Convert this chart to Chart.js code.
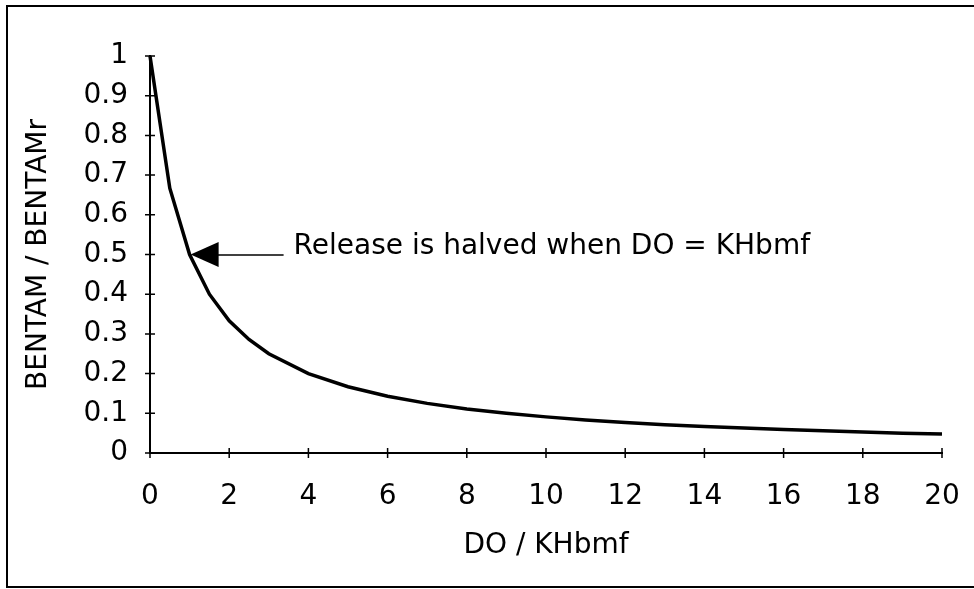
<!DOCTYPE html>
<html>
<head>
<meta charset="utf-8">
<script src="https://cdn.jsdelivr.net/npm/chart.js@4/dist/chart.umd.min.js"></script>
<style>
  html, body { margin: 0; padding: 0; background: #fff; }
  #wrap { width: 974px; height: 589px; position: relative; }
</style>
</head>
<body>
<div id="wrap"><canvas id="c" width="974" height="589"></canvas></div>
<script>
// Data
const xValues = [0, 0.5, 1, 1.5, 2, 2.5, 3, 4, 5, 6, 7, 8, 9, 10, 11, 12, 13, 14, 15, 16, 17, 18, 19, 20];
const yValues = [1, 0.667, 0.5, 0.4, 0.333, 0.286, 0.25, 0.2, 0.167, 0.143, 0.125, 0.111, 0.1, 0.091, 0.083, 0.077, 0.071, 0.067, 0.063, 0.059, 0.056, 0.053, 0.05, 0.048];
const xTickLabels = ['0', '2', '4', '6', '8', '10', '12', '14', '16', '18', '20'];
const yTickLabels = ['0', '0.1', '0.2', '0.3', '0.4', '0.5', '0.6', '0.7', '0.8', '0.9', '1'];
const xAxisTitle = 'DO / KHbmf';
const yAxisTitle = 'BENTAM / BENTAMr';
const annotationText = 'Release is halved when DO = KHbmf';
const annotationPoint = { x: 1, y: 0.5 };

const FONT = '"DejaVu Sans", Arial, sans-serif';
const FS = 28;

const points = xValues.map((x, i) => ({ x: x, y: yValues[i] }));

const decorPlugin = {
  id: 'decor',
  beforeDraw(chart) {
    const ctx = chart.ctx;
    ctx.save();
    ctx.fillStyle = '#fff';
    ctx.fillRect(0, 0, chart.width, chart.height);
    // outer frame
    ctx.strokeStyle = '#000';
    ctx.lineWidth = 2;
    ctx.beginPath();
    ctx.moveTo(chart.width + 5, 6);
    ctx.lineTo(7, 6);
    ctx.lineTo(7, 587);
    ctx.lineTo(chart.width + 5, 587);
    ctx.stroke();
    ctx.restore();
  },
  afterDraw(chart) {
    const ctx = chart.ctx;
    const xs = chart.scales.x, ys = chart.scales.y;
    const axisY = ys.getPixelForValue(0);
    const axisX = xs.getPixelForValue(0);
    ctx.save();
    ctx.strokeStyle = '#000';
    ctx.lineWidth = 1.5;
    ctx.beginPath();
    xs.ticks.forEach(t => {
      const px = xs.getPixelForValue(t.value);
      ctx.moveTo(px, axisY - 5);
      ctx.lineTo(px, axisY + 5);
    });
    ys.ticks.forEach(t => {
      const py = ys.getPixelForValue(t.value);
      ctx.moveTo(axisX - 5, py);
      ctx.lineTo(axisX + 5, py);
    });
    ctx.stroke();

    // annotation arrow
    const tipX = xs.getPixelForValue(annotationPoint.x) + 1;
    const tipY = ys.getPixelForValue(annotationPoint.y);
    ctx.fillStyle = '#000';
    ctx.beginPath();
    ctx.moveTo(tipX, tipY);
    ctx.lineTo(tipX + 28, tipY - 12.5);
    ctx.lineTo(tipX + 28, tipY + 12.5);
    ctx.closePath();
    ctx.fill();
    ctx.lineWidth = 1.5;
    ctx.beginPath();
    ctx.moveTo(tipX + 26, tipY + 0.5);
    ctx.lineTo(tipX + 93, tipY + 0.5);
    ctx.stroke();
    ctx.font = FS + 'px ' + FONT;
    ctx.textBaseline = 'alphabetic';
    ctx.textAlign = 'left';
    ctx.fillText(annotationText, tipX + 103, tipY - 1);
    ctx.restore();
  }
};

new Chart(document.getElementById('c'), {
  type: 'scatter',
  data: {
    datasets: [{
      data: points,
      showLine: true,
      borderColor: '#000',
      borderWidth: 3.5,
      pointRadius: 0,
      pointHoverRadius: 0,
      tension: 0,
      fill: false,
      clip: false
    }]
  },
  options: {
    responsive: false,
    animation: false,
    devicePixelRatio: 1,
    events: [],
    layout: { padding: { left: 10, right: 32, top: 56, bottom: 10 } },
    plugins: { legend: { display: false }, tooltip: { enabled: false } },
    scales: {
      x: {
        type: 'linear',
        min: 0, max: 20,
        afterFit(scale) { scale.height = 126; scale.paddingRight = 0; scale.paddingLeft = 0; },
        afterBuildTicks(scale) {
          scale.ticks = xTickLabels.map(l => ({ value: parseFloat(l) }));
        },
        ticks: {
          color: '#000',
          font: { family: FONT, size: FS },
          padding: 27,
          maxRotation: 0,
          autoSkip: false,
          callback: (v, i) => xTickLabels[i]
        },
        grid: { display: true, drawOnChartArea: false, drawTicks: false, color: 'rgba(0,0,0,0)' },
        border: { display: true, color: '#000', width: 2 },
        title: {
          display: true,
          text: xAxisTitle,
          color: '#000',
          font: { family: FONT, size: FS },
          padding: { top: 0, bottom: 16 }
        }
      },
      y: {
        type: 'linear',
        min: 0, max: 1,
        afterFit(scale) { scale.width = 140; },
        afterBuildTicks(scale) {
          scale.ticks = yTickLabels.map(l => ({ value: parseFloat(l) }));
        },
        ticks: {
          color: '#000',
          font: { family: FONT, size: FS },
          padding: 22,
          autoSkip: false,
          callback: (v, i) => yTickLabels[i]
        },
        grid: { display: true, drawOnChartArea: false, drawTicks: false, color: 'rgba(0,0,0,0)' },
        border: { display: true, color: '#000', width: 2 },
        title: {
          display: true,
          text: yAxisTitle,
          color: '#000',
          font: { family: FONT, size: FS },
          padding: { top: 12, bottom: 0 }
        }
      }
    }
  },
  plugins: [decorPlugin]
});
</script>
</body>
</html>
